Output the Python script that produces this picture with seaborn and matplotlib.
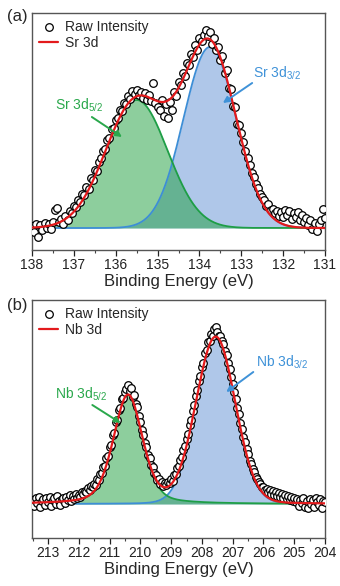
import numpy as np
import pandas as pd
import matplotlib
matplotlib.use("Agg")
import matplotlib.pyplot as plt
import seaborn as sns
from matplotlib.ticker import MultipleLocator, NullLocator

sns.set_theme(style="white")
plt.rcParams['font.family'] = ['Liberation Sans', 'DejaVu Sans']
plt.rcParams['mathtext.fontset'] = 'custom'
plt.rcParams['mathtext.rm'] = 'Liberation Sans'
plt.rcParams['mathtext.it'] = 'Liberation Sans'

# ---------------- data ----------------
STEP = 0.05

# Sr 3d raw intensity, from 138.00 eV downwards in 0.05 eV steps
sr_start = 138.0
sr_raw = [
    2, -4, 4, -9, 3, -2, 5, 0, 4, -1,
    6, 18, 20, 6, 9, 4, 12, 8, 17, 15,
    22, 21, 28, 26, 34, 33, 41, 39, 50, 48,
    58, 57, 66, 70, 77, 79, 88, 90, 99, 100,
    108, 110, 118, 117, 125, 124, 132, 129, 137, 134,
    138, 133, 136, 130, 135, 128, 133, 127, 145, 125,
    121, 118, 128, 112, 124, 110, 126, 118, 136, 132,
    146, 143, 155, 152, 165, 163, 174, 171, 183, 178,
    190, 187, 193, 198, 192, 196, 184, 190, 178, 181,
    168, 172, 155, 158, 140, 139, 122, 121, 104, 103,
    95, 86, 77, 70, 63, 55, 51, 44, 40, 34,
    31, 28, 22, 24, 18, 19, 15, 17, 12, 16,
    11, 18, 13, 17, 9, 15, 11, 16, 8, 13,
    6, 10, 3, 8, -1, 5, -3, 4, 8, 19,
    10,
]
sr_names = ["Sr 3d$_{5/2}$", "Sr 3d$_{3/2}$"]
sr_center = [135.50, 133.75]
sr_height = [128, 181]
sr_fwhm = [1.74, 1.48]
sr_eta = [0.0, 0.0]

# Nb 3d raw intensity, from 213.50 eV downwards in 0.05 eV steps
nb_start = 213.5
nb_raw = [
    4, -2, 6, 1, 7, -3, 3, 5, -1, 6,
    2, 7, -2, 4, 6, 0, 8, 3, -1, 5,
    6, 1, 7, 4, 9, 3, 8, 5, 10, 6,
    9, 7, 12, 10, 13, 12, 16, 14, 18, 17,
    20, 19, 25, 24, 30, 31, 37, 38, 46, 48,
    57, 59, 69, 71, 82, 84, 94, 96, 105, 106,
    112, 115, 119, 113, 116, 107, 109, 100, 97, 88,
    82, 74, 69, 61, 57, 49, 46, 39, 37, 31,
    29, 24, 25, 20, 22, 18, 21, 19, 22, 21,
    25, 23, 29, 30, 36, 38, 44, 47, 54, 58,
    65, 70, 79, 84, 93, 99, 108, 114, 123, 128,
    137, 141, 151, 154, 162, 163, 170, 168, 175, 177,
    172, 168, 168, 163, 160, 153, 149, 141, 135, 127,
    120, 112, 105, 96, 90, 81, 75, 67, 62, 55,
    50, 43, 40, 35, 32, 27, 25, 22, 20, 17,
    17, 14, 15, 12, 14, 10, 13, 9, 12, 8,
    11, 7, 10, 6, 9, 5, 8, 4, 7, 3,
    6, 2, 5, -2, 4, 1, 6, -3, 3, -4,
    5, 0, 4, -3, 6, 2, -1, 5, -4, 3,
    2,
]
nb_names = ["Nb 3d$_{5/2}$", "Nb 3d$_{3/2}$"]
nb_center = [210.40, 207.55]
nb_height = [109, 166]
nb_fwhm = [1.12, 1.50]
nb_eta = [0.35, 0.05]

# ---------------- styling ----------------
RED = "#e31a1c"
GREEN_LINE, GREEN_FILL, GREEN_TXT = "#1e9e46", "#1d9f3d", "#2aa84c"
BLUE_LINE, BLUE_FILL, BLUE_TXT = "#3d8ed6", "#6191d5", "#3f92d8"


def pseudo_voigt(x, c, a, f, eta):
    u = (x - c) ** 2 / f ** 2
    return a * ((1 - eta) * np.exp(-4 * np.log(2) * u) + eta / (1 + 4 * u))


def draw_panel(ax, start, raw, names, centers, heights, fwhms, etas,
               xlim, ylim, fit_label, labels_cfg):
    energy = np.round(start - STEP * np.arange(len(raw)), 2)
    df = pd.DataFrame({"E": energy, "I": raw})
    grid = np.linspace(xlim[0], xlim[1], 700)
    comps = [pseudo_voigt(grid, c, a, f, e)
             for c, a, f, e in zip(centers, heights, fwhms, etas)]
    total = comps[0] + comps[1]

    ax.fill_between(grid, 0, comps[1], color=BLUE_FILL, alpha=0.5, lw=0, zorder=1)
    ax.fill_between(grid, 0, comps[0], color=GREEN_FILL, alpha=0.5, lw=0, zorder=1)
    sns.lineplot(x=grid, y=comps[1], ax=ax, color=BLUE_LINE, lw=1.3, zorder=2)
    sns.lineplot(x=grid, y=comps[0], ax=ax, color=GREEN_LINE, lw=1.3, zorder=2)

    sns.scatterplot(data=df, x="E", y="I", ax=ax, marker="o", s=30,
                    facecolor="white", edgecolor="black", linewidth=0.9,
                    zorder=3, label="Raw Intensity")
    sns.lineplot(x=grid, y=total, ax=ax, color=RED, lw=1.6, zorder=4,
                 label=fit_label)

    ax.set_xlim(*xlim)
    ax.set_ylim(*ylim)
    ax.set_xlabel("Binding Energy (eV)", fontsize=12, labelpad=1)
    ax.set_ylabel("")
    ax.xaxis.set_major_locator(MultipleLocator(1))
    ax.xaxis.set_minor_locator(MultipleLocator(0.5))
    ax.yaxis.set_major_locator(NullLocator())
    ax.tick_params(axis="x", which="major", direction="out", length=4,
                   width=0.9, labelsize=10, pad=2, bottom=True, colors="#222222")
    ax.tick_params(axis="x", which="minor", direction="out", length=2.5,
                   width=0.8, bottom=True, colors="#444444")
    for sp in ax.spines.values():
        sp.set_color("#555555")
        sp.set_linewidth(1.0)

    h, l = ax.get_legend_handles_labels()
    ax.legend(h[:2], l[:2], loc="upper left", frameon=False,
              fontsize=10, handlelength=1.4, handletextpad=0.5,
              borderaxespad=0.3, labelspacing=0.15, borderpad=0.2)

    for (name, txt_xy, tail, head, col) in zip(names, *labels_cfg):
        ax.text(txt_xy[0], txt_xy[1], name, color=col, fontsize=10,
                ha="left", va="center", zorder=5)
        ax.annotate("", xy=head, xytext=tail, zorder=5,
                    arrowprops=dict(arrowstyle="-|>", color=col, lw=1.4,
                                    mutation_scale=9, shrinkA=0, shrinkB=0))


fig = plt.figure(figsize=(3.4, 5.86), dpi=100)
ax1 = fig.add_axes([32 / 340, 1 - 250 / 586, 293 / 340, 237 / 586])
ax2 = fig.add_axes([32 / 340, 1 - 538 / 586, 293 / 340, 238 / 586])

draw_panel(ax1, sr_start, sr_raw, sr_names, sr_center, sr_height, sr_fwhm,
           sr_eta, (138, 131), (-22, 215), "Sr 3d",
           ([(137.45, 123), (132.72, 155)],
            [(136.57, 111), (132.74, 145)],
            [(135.85, 91), (133.44, 125)],
            [GREEN_TXT, BLUE_TXT]))
draw_panel(ax2, nb_start, nb_raw, nb_names, nb_center, nb_height, nb_fwhm,
           nb_eta, (213.52, 204), (-34, 204), "Nb 3d",
           ([(212.77, 110), (206.23, 142)],
            [(211.56, 99), (206.33, 132)],
            [(210.64, 81), (207.21, 112)],
            [GREEN_TXT, BLUE_TXT]))

fig.text(7 / 340, 1 - 9 / 586, "(a)", fontsize=12, va="top", ha="left")
fig.text(7 / 340, 1 - 298 / 586, "(b)", fontsize=12, va="top", ha="left")

fig.savefig("out.png", dpi=100)
